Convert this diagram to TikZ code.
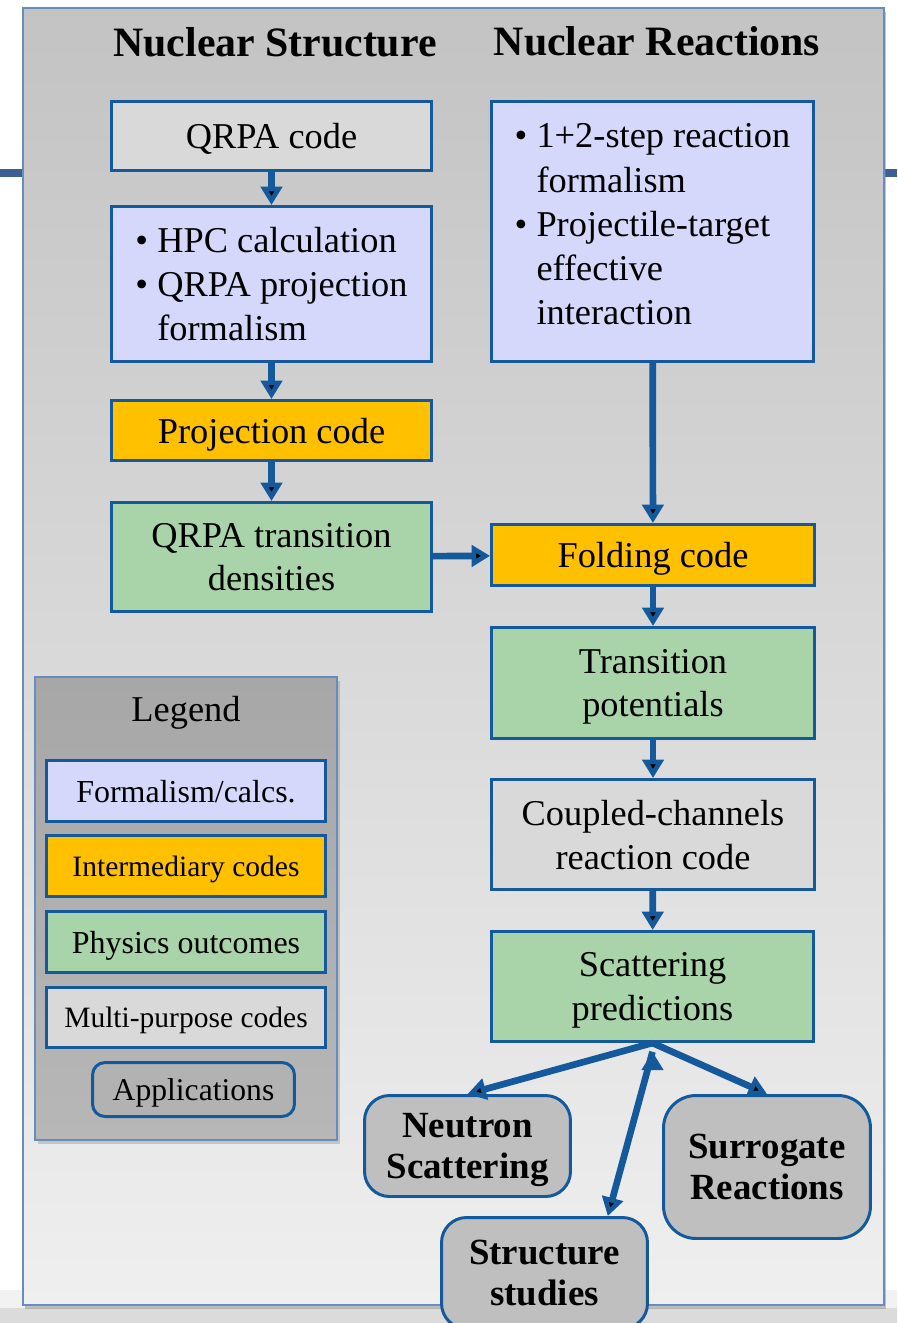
\documentclass[tikz,border=0pt]{standalone}
\usepackage{fontspec}
\setmainfont{Liberation Serif}
\usetikzlibrary{arrows.meta,positioning,shadows}

\definecolor{boxline}{HTML}{13599B}
\definecolor{lav}{HTML}{D6D8FB}
\definecolor{gold}{HTML}{FFC000}
\definecolor{mint}{HTML}{A9D4A9}
\definecolor{light}{HTML}{D9D9D9}
\definecolor{appgray}{HTML}{BFBFBF}
\definecolor{frame}{HTML}{6A8BBE}
\definecolor{rule}{HTML}{3D5F94}
\definecolor{panTop}{HTML}{C3C3C3}
\definecolor{panBot}{HTML}{EFEFEF}
\definecolor{legTop}{HTML}{A7A7A7}
\definecolor{legBot}{HTML}{B7B7B7}

\tikzset{
  box/.style={draw=boxline, line width=1.7pt, align=center, inner sep=2pt, text depth=0pt,
    font=\fontsize{20.7}{24.9}\selectfont},
  formal/.style={box, fill=lav},
  intcode/.style={box, fill=gold},
  outcome/.style={box, fill=mint},
  multicode/.style={box, fill=light},
  app/.style={box, fill=appgray, rounded corners=0.5cm,
    font=\fontsize{21}{23.4}\selectfont\bfseries},
  legbox/.style={box, font=\fontsize{16.8}{20}\selectfont},
  head/.style={font=\fontsize{23.8}{28}\selectfont\bfseries},
  arrow/.style={draw=boxline, line width=3.8pt, -{Triangle[length=10.5pt,width=12pt]}}
}

\begin{document}
\begin{tikzpicture}[x=0.02cm, y=-0.02cm]
  \useasboundingbox (0,0) rectangle (897,1323);
  \fill[white] (0,0) rectangle (897,1323);
  \fill[black!5] (0,1290) rectangle (897,1323);
  \fill[black!14] (0,1308) rectangle (897,1323);
  % slide rule behind the panel
  \fill[rule] (0,169) rectangle (24,177);
  \fill[rule] (883,169) rectangle (897,177);

  % panel and legend background
  \path[draw=frame, line width=1pt, top color=panTop, bottom color=panBot,
    drop shadow={shadow xshift=1pt, shadow yshift=-2.5pt, opacity=.45}]
    (23,8) rectangle (884,1305);
  \path[draw=frame, line width=0.8pt, top color=legTop, bottom color=legBot,
    drop shadow={shadow xshift=1.5pt, shadow yshift=-2pt, opacity=.35}]
    (35,677) rectangle (337,1140);

  \node[head] (h_struct) at (275,42) {Nuclear Structure};
  \node[head] (h_react) at (657,41) {Nuclear Reactions};

  % nuclear structure column
  \node[multicode, minimum width=6.4cm, minimum height=1.38cm] (qrpa) at (271.5,136) {QRPA code};
  \node[formal, align=left, minimum width=6.4cm, minimum height=3.1cm] (hpc) at (271.5,284)
    {\textbullet\ HPC calculation\\ \textbullet\ QRPA projection\\ \phantom{\textbullet\ }formalism};
  \node[intcode, minimum width=6.4cm, minimum height=1.2cm] (proj) at (271.5,430.5) {Projection code};
  \node[outcome, minimum width=6.4cm, minimum height=2.18cm] (dens) at (271.5,557) {QRPA transition\\densities};

  % nuclear reactions column
  \node[formal, align=left, font=\fontsize{20.7}{25.2}\selectfont,
    minimum width=6.44cm, minimum height=5.2cm] (react) at (652.5,231.5)
    {\textbullet\ 1+2-step reaction\\ \phantom{\textbullet\ }formalism\\ \textbullet\ Projectile-target\\
     \phantom{\textbullet\ }effective\\ \phantom{\textbullet\ }interaction\\[-17pt]};
  \node[intcode, minimum width=6.46cm, minimum height=1.22cm] (fold) at (653,555) {Folding code};
  \node[outcome, minimum width=6.46cm, minimum height=2.22cm] (trans) at (653,683) {Transition\\potentials};
  \node[multicode, minimum width=6.46cm, minimum height=2.2cm] (cc) at (653,834.5) {Coupled-channels\\reaction code};
  \node[outcome, minimum width=6.44cm, minimum height=2.2cm] (scat) at (652.5,986.5) {Scattering\\predictions};

  % applications
  \node[app, minimum width=4.12cm, minimum height=2.02cm] (neut) at (467.5,1146) {Neutron\\Scattering};
  \node[app, rounded corners=0.65cm, minimum width=4.14cm, minimum height=2.86cm] (surr) at (767,1167) {Surrogate\\Reactions};
  \node[app, minimum width=4.12cm, minimum height=2.22cm] (stru) at (544.5,1273) {Structure\\studies};

  % legend
  \node[font=\fontsize{20.7}{24}\selectfont] (leg_title) at (186,713) {Legend};
  \node[legbox, fill=lav, font=\fontsize{18.2}{20}\selectfont,
    minimum width=5.58cm, minimum height=1.22cm] (leg_f) at (186,791) {Formalism/calcs.};
  \node[legbox, fill=gold, minimum width=5.58cm, minimum height=1.22cm] (leg_i) at (186,866) {Intermediary codes};
  \node[legbox, fill=mint, font=\fontsize{18.2}{20}\selectfont,
    minimum width=5.58cm, minimum height=1.22cm] (leg_p) at (186,942) {Physics outcomes};
  \node[legbox, fill=light, minimum width=5.58cm, minimum height=1.2cm] (leg_m) at (186,1017.5) {Multi-purpose codes};
  \node[legbox, fill=black!30, rounded corners=0.25cm, font=\fontsize{18}{20}\selectfont,
    minimum width=4.04cm, minimum height=1.08cm] (leg_a) at (193.5,1089.5) {Applications};

  \path[arrow]
    (qrpa) edge (hpc)
    (hpc) edge (proj)
    (proj) edge (dens)
    (dens) edge (fold)
    (react) edge (fold)
    (fold) edge (trans)
    (trans) edge (cc)
    (cc) edge (scat)
    (scat.south) edge (neut.north)
                 edge (surr.north)
    ([yshift=-5pt]scat.south) edge (stru.42);
\end{tikzpicture}
\end{document}
